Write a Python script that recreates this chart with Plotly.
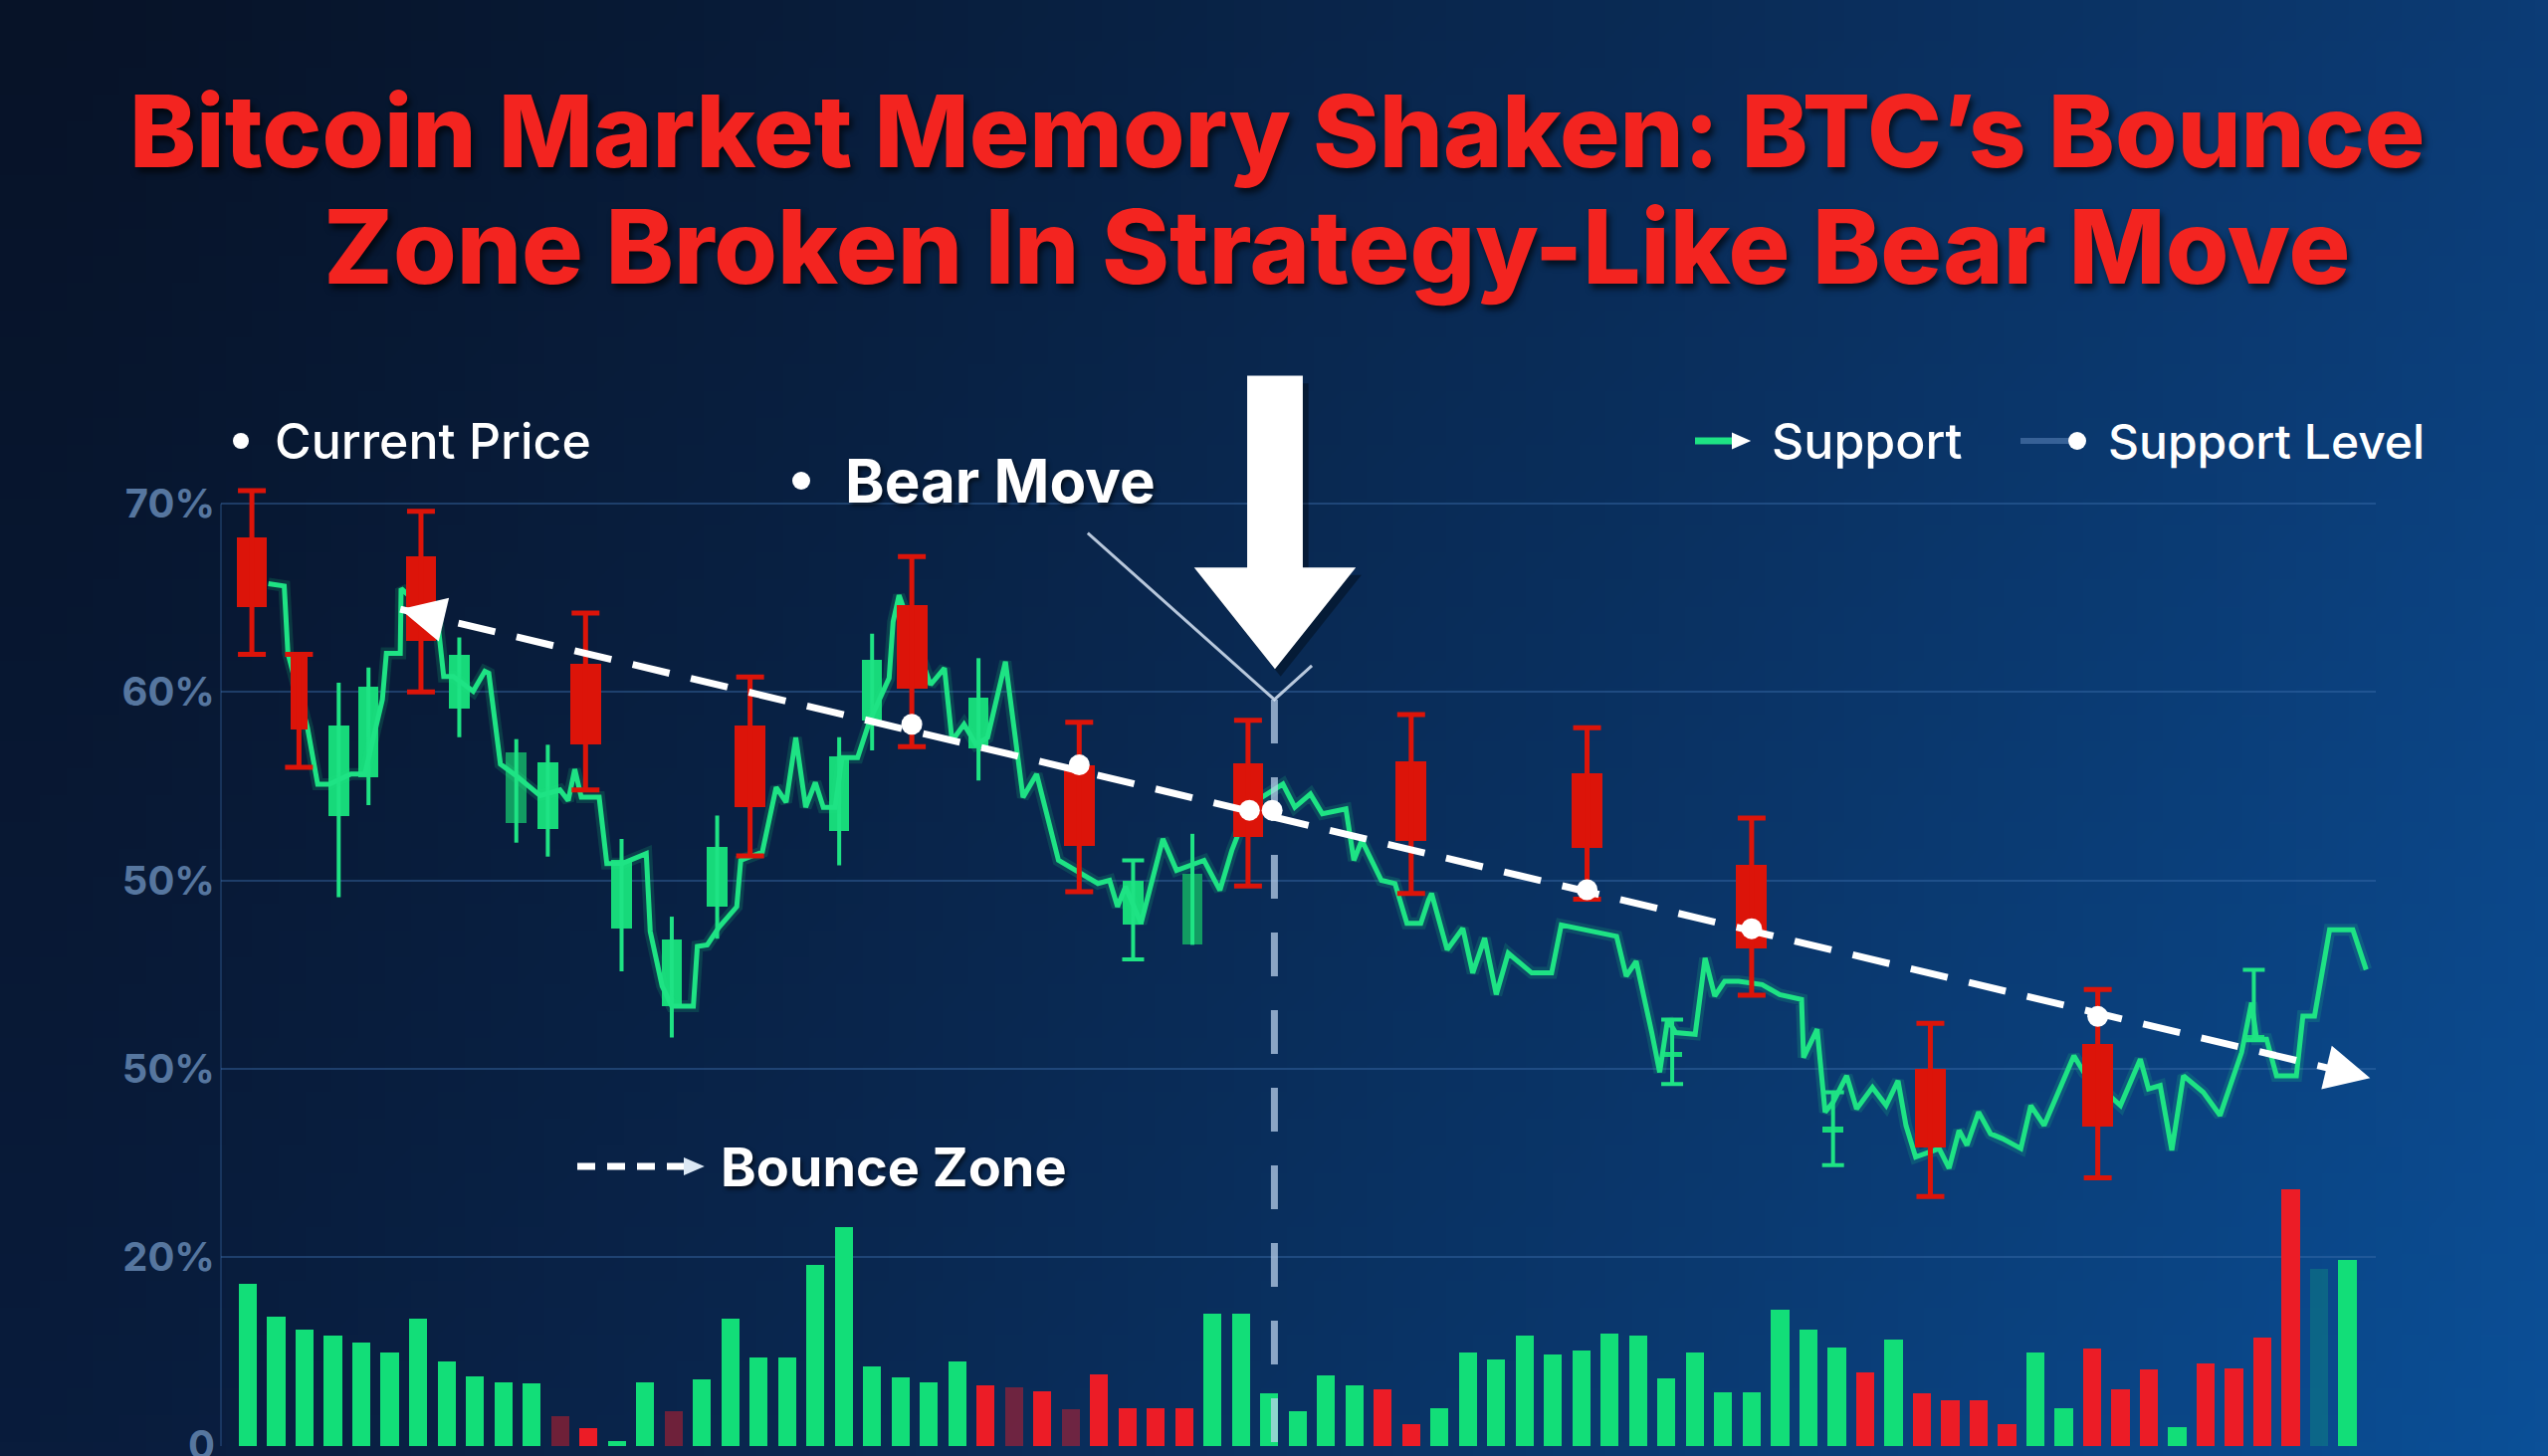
import base64
import struct
import zlib

import plotly.graph_objects as go

# canvas / plot box in pixels
W, H = 2560, 1463
L, R, T, B = 222, 173, 370, 10
PW, PH = W - L - R, H - T - B

X_RANGE = [-0.95, 75.0]
P_RANGE = [19.95, 77.2]
V_RANGE = [0.0, (P_RANGE[1] - P_RANGE[0]) * 2]

RED = "#dc1409"
GREEN = "#1ee384"
GREEN_DARK = "#129c62"
VOL_GREEN = "#12de78"
VOL_RED = "#ec1c26"
GRID = "rgba(62,112,175,0.42)"
TICK = "#56769f"
WHITE = "#ffffff"
FONT = "Inter, Roboto, sans-serif"

# ---------------------------------------------------------------- data
TICK_VALS = [70, 60, 50, 40, 30, 20]
TICK_TEXT = ["70%", "60%", "50%", "50%", "20%", "0"]

VOLUME = [17.2, 13.7, 12.4, 11.7, 11.0, 9.9, 13.5, 9.0, 7.4, 6.8,
          6.7, 3.2, 1.9, 0.5, 6.8, 3.7, 7.1, 13.5, 9.4, 9.4,
          19.2, 23.3, 8.5, 7.3, 6.8, 9.0, 6.4, 6.2, 5.8, 3.9,
          7.6, 4.0, 4.0, 4.0, 14.1, 14.1, 5.6, 3.7, 7.5, 6.4,
          6.0, 2.3, 4.0, 9.9, 9.2, 11.7, 9.7, 10.1, 12.0, 11.7,
          7.2, 9.9, 5.7, 5.7, 14.5, 12.4, 10.5, 7.8, 11.3, 5.6,
          4.9, 4.9, 2.3, 9.9, 4.0, 10.4, 6.0, 8.1, 2.0, 8.8,
          8.2, 11.5, 27.3, 18.8, 19.8]
# G = up, R = down, lower case = faded bar
VOLUME_DIR = list("GGGGGGGGGGG" "rRGGr" "GGGGGGGGGG" "RrRrRRRR"
                  "GGGGGG" "RR" "GGGGGGGGGGGGGGG" "RG" "RRRR" "GG"
                  "RRR" "G" "RRRR" "gG")

RED_X = [0.14, 1.8, 6.1, 11.9, 17.7, 23.4, 29.3, 35.25, 41.0, 47.2, 53.0, 59.3, 65.2]
RED_OPEN = [68.2, 62.0, 67.2, 61.5, 58.2, 64.6, 56.1, 56.2, 56.3, 55.7, 50.8, 40.0, 41.3]
RED_CLOSE = [64.5, 58.0, 62.7, 57.2, 53.9, 60.2, 51.8, 52.3, 52.1, 51.7, 46.4, 35.8, 36.9]
RED_HIGH = [70.7, 62.0, 69.6, 64.2, 60.8, 67.2, 58.4, 58.5, 58.8, 58.1, 53.3, 42.4, 44.2]
RED_LOW = [62.0, 56.0, 60.0, 54.8, 51.3, 57.1, 49.4, 49.7, 49.3, 49.0, 43.9, 33.2, 34.2]

GREEN_X = [3.2, 4.25, 7.45, 9.46, 10.57, 13.17, 14.94, 16.54, 20.84, 22.0,
           25.75, 31.2, 33.29, 50.2, 55.87, 70.7]
GREEN_OPEN = [53.4, 55.5, 59.1, 53.05, 52.74, 47.45, 43.32, 48.6, 52.64, 58.5,
              57.0, 47.63, 46.57, 40.6, 36.6, 41.5]
GREEN_CLOSE = [58.2, 60.3, 62.0, 56.8, 56.27, 51.06, 46.84, 51.78, 56.6, 61.7,
               59.7, 50.0, 50.36, 40.9, 36.9, 41.8]
GREEN_HIGH = [60.5, 61.3, 62.9, 57.5, 57.2, 52.2, 48.07, 53.44, 57.6, 63.1,
              61.8, 51.06, 52.47, 42.6, 38.74, 45.25]
GREEN_LOW = [49.1, 54.0, 57.6, 52.0, 51.26, 45.17, 41.65, 46.9, 50.8, 56.9,
             55.3, 45.8, 46.57, 39.18, 34.87, 41.5]
GREEN_SHADE = ["n", "n", "n", "d", "n", "n", "n", "n", "n", "n",
               "n", "n", "d", "n", "n", "n"]
GREEN_CAPPED = [False] * 11 + [True, False, True, True, True]

LINE_X = [0.72, 1.28, 1.41, 2.1, 2.46, 2.87, 3.63, 4.12, 4.74, 4.88, 5.37, 5.4,
          6.69, 6.9, 7.24, 7.94, 8.35, 8.49, 8.9, 9.5, 10.3, 11.0, 11.29, 11.52,
          11.75, 12.38, 12.65, 13.2, 14.04, 14.18, 14.6, 14.94, 15.7, 15.84, 16.19,
          16.6, 17.23, 17.37, 18.13, 18.62, 18.97, 19.31, 19.66, 20.0, 20.28, 20.7,
          20.94, 21.49, 21.91, 22.6, 22.74, 22.95, 24.06, 24.55, 24.82, 25.24,
          25.66, 26.07, 26.7, 27.32, 27.8, 28.57, 29.96, 30.37, 30.65, 30.93,
          31.48, 32.25, 32.73, 33.7, 34.26, 34.68, 35.3, 35.93, 36.48, 36.9,
          37.45, 37.87, 38.42, 38.7, 38.98, 39.26, 39.95, 40.43, 40.85, 41.34,
          41.61, 41.72, 42.27, 42.82, 43.17, 43.59, 44.0, 44.42, 45.25, 45.95,
          46.29, 48.24, 48.58, 48.93, 49.48, 49.76, 50.04, 50.32, 51.01, 51.36,
          51.7, 52.05, 52.54, 53.37, 53.99, 54.76, 54.83, 55.31, 55.59, 55.87,
          56.35, 56.7, 57.26, 57.74, 58.16, 58.44, 58.78, 59.61, 59.96, 60.31,
          60.59, 61.0, 61.42, 61.84, 62.49, 62.84, 63.31, 64.36, 64.71, 66.0,
          66.7, 66.99, 67.4, 67.81, 68.22, 68.57, 68.92, 69.51, 70.27, 70.62,
          70.8, 71.15, 71.5, 72.2, 72.43, 72.84, 73.37, 74.19, 74.66]
LINE_Y = [65.76, 65.63, 62.06, 58.1, 55.1, 55.1, 55.64, 55.64, 59.6, 62.06, 62.06, 65.5,
          63.73, 60.83, 60.83, 60.04, 61.1, 61.0, 56.17, 55.5, 54.5, 54.8, 54.23, 55.9,
          54.41, 54.41, 50.89, 50.9, 51.42, 47.28, 44.38, 43.32, 43.32, 46.49, 46.57,
          47.5, 48.6, 51.06, 51.5, 54.94, 54.15, 57.58, 53.88, 55.2, 53.88, 53.88,
          56.52, 56.52, 58.45, 60.74, 63.73, 65.14, 60.39, 61.27, 57.4, 58.28,
          57.22, 57.58, 61.62, 54.41, 55.64, 51.06, 49.83, 50.0, 48.6, 49.66,
          47.72, 52.2, 50.53, 51.06, 49.47, 51.59, 54.0, 54.58, 55.11, 53.88,
          54.58, 53.53, 53.7, 53.79, 51.06, 52.12, 50.0, 49.83, 47.72, 47.72,
          48.95, 49.3, 46.31, 47.45, 45.08, 46.93, 43.93, 46.13, 45.08, 45.08,
          47.63, 47.02, 44.91, 45.7, 41.91, 39.8, 42.61, 41.91, 41.82, 45.87,
          43.85, 44.64, 44.64, 44.46, 43.93, 43.67, 40.59, 42.09, 37.69, 38.21,
          39.62, 37.86, 39.0, 38.04, 39.36, 36.98, 35.3, 35.75, 34.7, 36.72,
          35.93, 37.69, 36.54, 36.28, 35.75, 38.04, 36.98, 40.68, 39.8, 38.04,
          40.5, 38.92, 39.1, 35.66, 39.62, 39.18, 38.74, 37.51, 40.86, 43.5,
          41.56, 41.56, 39.62, 39.62, 42.79, 42.79, 47.37, 47.37, 45.25]

TREND_X = [5.37, 74.8]
TREND_Y = [64.4, 39.5]
LEVEL_X = [23.4, 29.3, 35.3, 36.1, 47.2, 53.0, 65.2]
LEVEL_Y = [58.29, 56.13, 53.72, 53.72, 49.5, 47.43, 42.77]

BREAK_X = 36.18
BREAK_TOP = 59.6
POINTER_X = [29.6, 36.18, 37.5]
POINTER_Y = [68.45, 59.6, 61.4]


def px(x, y):
    """pixel position on the canvas -> paper coordinates"""
    return (x - L) / PW, (H - B - y) / PH


def _background_png(w=96, h=54):
    tl, tr = (7, 19, 40), (12, 60, 118)
    bl, br = (9, 28, 60), (11, 80, 152)
    rows = []
    for j in range(h):
        v = j / (h - 1)
        row = bytearray([0])
        for i in range(w):
            u = (i / (w - 1)) ** 1.25
            for k in range(3):
                top = tl[k] + (tr[k] - tl[k]) * u
                bot = bl[k] + (br[k] - bl[k]) * u
                row.append(int(top + (bot - top) * v))
        rows.append(bytes(row))

    def chunk(tag, data):
        body = tag + data
        return struct.pack(">I", len(data)) + body + struct.pack(">I", zlib.crc32(body) & 0xFFFFFFFF)

    png = (b"\x89PNG\r\n\x1a\n"
           + chunk(b"IHDR", struct.pack(">IIBBBBB", w, h, 8, 2, 0, 0, 0))
           + chunk(b"IDAT", zlib.compress(b"".join(rows)))
           + chunk(b"IEND", b""))
    return "data:image/png;base64," + base64.b64encode(png).decode()


def wick_trace(xs, highs, lows, yaxis, color, thickness, cap):
    mid = [(h + l) / 2 for h, l in zip(highs, lows)]
    return go.Scatter(
        x=xs, y=mid, yaxis=yaxis, mode="markers",
        marker=dict(size=1, color="rgba(0,0,0,0)"),
        error_y=dict(type="data", symmetric=False,
                     array=[h - m for h, m in zip(highs, mid)],
                     arrayminus=[m - l for m, l in zip(mid, lows)],
                     color=color, thickness=thickness, width=cap),
    )


# ---------------------------------------------------------------- traces
vol_colors = {"G": VOL_GREEN, "R": VOL_RED,
              "g": "rgba(18,222,120,0.2)", "r": "rgba(236,28,38,0.45)"}

fig = go.Figure()

fig.add_trace(go.Bar(
    x=list(range(len(VOLUME))), y=VOLUME, yaxis="y",
    width=0.64, marker=dict(color=[vol_colors[d] for d in VOLUME_DIR], line_width=0),
))

plain = [i for i, c in enumerate(GREEN_CAPPED) if not c]
capped = [i for i, c in enumerate(GREEN_CAPPED) if c]
fig.add_trace(wick_trace([GREEN_X[i] for i in plain], [GREEN_HIGH[i] for i in plain],
                         [GREEN_LOW[i] for i in plain], "y2", GREEN, 4, 0))
fig.add_trace(wick_trace([GREEN_X[i] for i in capped], [GREEN_HIGH[i] for i in capped],
                         [GREEN_LOW[i] for i in capped], "y2", GREEN, 4, 11))
fig.add_trace(go.Bar(
    x=GREEN_X, y=[c - o for o, c in zip(GREEN_OPEN, GREEN_CLOSE)], base=GREEN_OPEN,
    yaxis="y2", width=0.72,
    marker=dict(color=[GREEN_DARK if s == "d" else "#17d97a" for s in GREEN_SHADE], line_width=0),
))
# soft glow + price line
fig.add_trace(go.Scatter(x=LINE_X, y=LINE_Y, yaxis="y2", mode="lines",
                         line=dict(color="rgba(30,227,132,0.16)", width=12)))
fig.add_trace(go.Scatter(x=LINE_X, y=LINE_Y, yaxis="y2", mode="lines",
                         line=dict(color=GREEN, width=5)))

fig.add_trace(go.Bar(
    x=RED_X, y=[o - c for o, c in zip(RED_OPEN, RED_CLOSE)], base=RED_CLOSE,
    yaxis="y3", width=[0.62 if i == 1 else 1.08 for i in range(len(RED_X))],
    marker=dict(color=RED, line_width=0),
))
fig.add_trace(wick_trace(RED_X, RED_HIGH, RED_LOW, "y3", RED, 5, 14))

# break marker: vertical dashed line and the thin pointer
fig.add_trace(go.Scatter(x=[BREAK_X, BREAK_X], y=[BREAK_TOP, P_RANGE[0]], yaxis="y3",
                         mode="lines",
                         line=dict(color="rgba(190,212,238,0.72)", width=7, dash="44px,34px")))
fig.add_trace(go.Scatter(x=POINTER_X, y=POINTER_Y, yaxis="y3", mode="lines",
                         line=dict(color="rgba(215,228,245,0.85)", width=3)))

# falling support trendline
fig.add_trace(go.Scatter(x=TREND_X, y=TREND_Y, yaxis="y3", mode="lines",
                         line=dict(color=WHITE, width=7, dash="38px,22px")))
fig.add_trace(go.Scatter(x=LEVEL_X, y=LEVEL_Y, yaxis="y3", mode="markers",
                         marker=dict(color=WHITE, size=21, line_width=0)))

# ---------------------------------------------------------------- layout
slope = (TREND_Y[1] - TREND_Y[0]) / (TREND_X[1] - TREND_X[0])
annotations = [
    dict(x=TREND_X[0], y=TREND_Y[0], ax=TREND_X[0] + 1.0, ay=TREND_Y[0] + slope * 1.0,
         xref="x", yref="y3", axref="x", ayref="y3", text="", showarrow=True,
         arrowhead=2, arrowsize=1.5, arrowwidth=6, arrowcolor=WHITE),
    dict(x=TREND_X[1], y=TREND_Y[1], ax=TREND_X[1] - 1.0, ay=TREND_Y[1] - slope * 1.0,
         xref="x", yref="y3", axref="x", ayref="y3", text="", showarrow=True,
         arrowhead=2, arrowsize=1.5, arrowwidth=6, arrowcolor=WHITE),
]


def label(text, x, y, size, weight=500, anchor="left", color=WHITE, shadow="none"):
    ax, ay = px(x, y)
    annotations.append(dict(
        x=ax, y=ay, xref="paper", yref="paper", text=text, showarrow=False,
        xanchor=anchor, yanchor="middle",
        font=dict(family=FONT, size=size, color=color, weight=weight, shadow=shadow),
    ))


TITLE_SHADOW = "3px 5px 6px rgba(0,0,0,0.65)"
label("Bitcoin Market Memory Shaken: BTC’s Bounce", 1283, 131, 101, 800, "center", "#f32420", TITLE_SHADOW)
label("Zone Broken In Strategy-Like Bear Move", 1343, 248, 103, 800, "center", "#f32420", TITLE_SHADOW)
label("Current Price", 274, 443, 50)
label("Bear Move", 847, 483, 60, 700, shadow="2px 3px 4px rgba(0,0,0,0.6)")
label("Support", 1778, 443, 50)
label("Support Level", 2116, 443, 48)
label("Bounce Zone", 722, 1172, 54, 700, shadow="2px 3px 4px rgba(0,0,0,0.6)")


def dot(x, y, r=9, color=WHITE):
    ax, ay = px(x, y)
    return dict(type="circle", xref="paper", yref="paper", xsizemode="pixel", ysizemode="pixel",
                xanchor=ax, yanchor=ay, x0=-r, x1=r, y0=-r, y1=r,
                fillcolor=color, line_width=0, layer="above")


def seg(x0, y0, x1, y1, color, width, dash="solid"):
    (a0, b0), (a1, b1) = px(x0, y0), px(x1, y1)
    return dict(type="line", xref="paper", yref="paper", x0=a0, y0=b0, x1=a1, y1=b1,
                line=dict(color=color, width=width, dash=dash), layer="above")


def tri(x, y, size, color=WHITE):
    pts = [px(x - size, y - size * 0.7), px(x + size * 0.6, y), px(x - size, y + size * 0.7)]
    path = "M " + " L ".join(f"{a},{b}" for a, b in pts) + " Z"
    return dict(type="path", xref="paper", yref="paper", path=path,
                fillcolor=color, line_width=0, layer="above")


arrow_path = ("M 35.22,76.8 L 37.18,76.8 L 37.18,66.62 L 39.05,66.62 "
              "L 36.2,61.22 L 33.35,66.62 L 35.22,66.62 Z")
shadow_path = ("M 35.42,76.4 L 37.38,76.4 L 37.38,66.22 L 39.25,66.22 "
               "L 36.4,60.82 L 33.55,66.22 L 35.42,66.22 Z")

shapes = [
    # faint left axis rule, from the top gridline down
    dict(type="line", xref="paper", yref="y2", x0=0, x1=0, y0=P_RANGE[0], y1=70,
         line=dict(color="rgba(62,112,175,0.3)", width=2), layer="below"),
    dict(type="path", xref="x", yref="y3", path=shadow_path,
         fillcolor="rgba(0,0,0,0.35)", line_width=0, layer="above"),
    dict(type="path", xref="x", yref="y3", path=arrow_path,
         fillcolor=WHITE, line_width=0, layer="above"),
    dot(242, 443, 8),
    dot(805, 483, 9),
    seg(1703, 443, 1748, 443, GREEN, 7),
    tri(1752, 443, 12),
    seg(2030, 443, 2078, 443, "rgba(110,150,205,0.45)", 6),
    dot(2087, 443, 9),
    seg(580, 1172, 692, 1172, WHITE, 7, "18px,12px"),
    tri(700, 1172, 13, "#dce8f5"),
]

fig.update_layout(
    width=W, height=H, autosize=False,
    margin=dict(l=L, r=R, t=T, b=B, pad=0, autoexpand=False),
    paper_bgcolor="#0b2550", plot_bgcolor="rgba(0,0,0,0)",
    showlegend=False, barmode="overlay", bargap=0,
    font=dict(family=FONT, color=WHITE),
    xaxis=dict(range=X_RANGE, visible=False, fixedrange=True, automargin=False),
    yaxis=dict(range=V_RANGE, visible=False, fixedrange=True, automargin=False),
    yaxis2=dict(range=P_RANGE, overlaying="y", side="left", automargin=False,
                tickvals=TICK_VALS, ticktext=TICK_TEXT, ticks="",
                tickfont=dict(family=FONT, size=40, color=TICK, weight=700),
                ticklabelstandoff=5, ticklabeloverflow="allow",
                showgrid=True, gridcolor=GRID, gridwidth=2, zeroline=False,
                showline=False),
    yaxis3=dict(range=P_RANGE, overlaying="y", visible=False, automargin=False),
    images=[dict(source=_background_png(), xref="paper", yref="paper",
                 x=-L / PW, y=1 + T / PH, sizex=W / PW, sizey=H / PH,
                 xanchor="left", yanchor="top", sizing="stretch", layer="below")],
    annotations=annotations,
    shapes=shapes,
)

fig.write_html("out.html", config={"displayModeBar": False},
               post_script="document.body.style.margin='0';document.body.style.overflow='hidden';")
